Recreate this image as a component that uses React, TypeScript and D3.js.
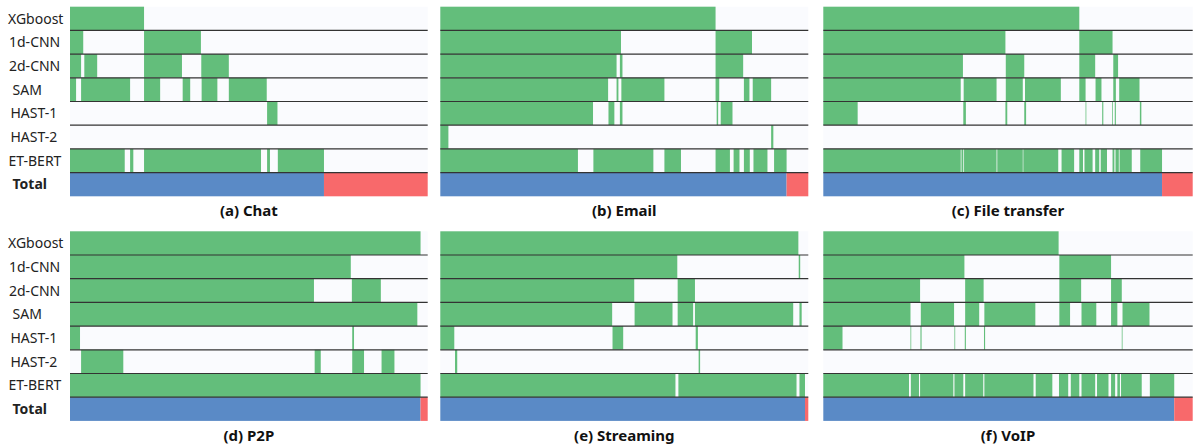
import React from "react";
import * as d3 from "d3";

type Seg = [number, number];

const models = ["XGboost", "1d-CNN", "2d-CNN", "SAM", "HAST-1", "HAST-2", "ET-BERT"];
const panelTitles = ["(a) Chat", "(b) Email", "(c) File transfer", "(d) P2P", "(e) Streaming", "(f) VoIP"];

const chatRows: Seg[][] = [
  [[0, 20.7]],
  [[0, 3.7], [20.7, 36.6]],
  [[0, 3.1], [4.0, 7.6], [20.7, 31.3], [36.7, 44.4]],
  [[0, 1.7], [3.1, 16.8], [20.7, 25.2], [31.5, 33.6], [36.8, 41.2], [44.4, 55.0]],
  [[55.1, 58.0]],
  [],
  [[0, 15.3], [16.8, 17.7], [20.7, 53.4], [55.1, 55.9], [58.1, 71.0]],
];
const emailRows: Seg[][] = [
  [[0, 74.8]],
  [[0, 49.1], [74.8, 84.7]],
  [[0, 47.9], [48.8, 49.5], [74.8, 82.3]],
  [[0, 45.6], [47.9, 48.4], [49.2, 60.9], [74.8, 75.8], [82.5, 84.0], [84.9, 89.9]],
  [[0, 41.5], [45.7, 47.3], [48.8, 49.5], [75.1, 75.5], [76.2, 79.4]],
  [[0, 2.2], [89.9, 90.5]],
  [[0, 37.4], [41.6, 57.9], [60.9, 65.4], [74.8, 78.7], [79.7, 81.3], [82.5, 84.1], [85.1, 88.9], [90.7, 94.1]],
];
const fileRows: Seg[][] = [
  [[0, 69.3]],
  [[0, 49.3], [69.3, 78.3]],
  [[0, 37.8], [49.4, 54.4], [69.3, 73.6], [78.5, 79.8]],
  [[0, 37.2], [38.0, 46.9], [49.4, 54.0], [54.6, 64.3], [69.3, 71.0], [73.7, 75.3], [78.5, 79.2], [80.1, 85.6]],
  [[0, 9.3], [37.9, 38.6], [49.3, 49.8], [54.4, 54.9], [71.0, 71.2], [75.5, 75.8], [78.2, 78.4], [78.9, 79.2], [85.7, 86.1]],
  [],
  [[0, 37.2], [37.4, 37.9], [38.1, 46.9], [47.1, 54.0], [54.15, 63.6], [64.5, 67.9], [69.3, 70.3], [70.7, 72.9], [73.6, 74.7], [75.1, 76.8], [78.3, 78.8], [79.1, 80.0], [80.2, 83.5], [85.8, 91.7]],
];
const p2pRows: Seg[][] = [
  [[0, 98.0]],
  [[0, 78.5]],
  [[0, 68.2], [78.8, 86.9]],
  [[0, 97.1]],
  [[0, 2.8], [78.9, 79.4]],
  [[3.1, 14.9], [68.4, 70.1], [78.9, 82.2], [87.1, 90.7]],
  [[0, 98.0]],
];
const streamingRows: Seg[][] = [
  [[0, 97.3]],
  [[0, 64.4], [97.4, 97.8]],
  [[0, 52.7], [64.5, 69.2]],
  [[0, 46.7], [52.8, 63.1], [64.5, 68.7], [69.2, 95.9], [97.6, 98.2]],
  [[0, 3.8], [46.8, 49.7], [69.4, 70.0]],
  [[4.0, 4.6], [70.2, 70.6]],
  [[0, 63.9], [64.7, 96.8], [97.6, 99.1]],
];
const voipRows: Seg[][] = [
  [[0, 63.7]],
  [[0, 38.2], [63.9, 77.9]],
  [[0, 26.2], [38.4, 43.4], [63.9, 69.8], [77.9, 80.8]],
  [[0, 23.6], [26.4, 35.4], [38.4, 42.2], [43.6, 57.4], [63.9, 66.8], [69.9, 73.9], [77.9, 79.6], [81.0, 88.3]],
  [[0, 5.2], [23.6, 23.8], [26.3, 26.6], [35.5, 35.7], [38.3, 38.6], [43.5, 43.8], [80.8, 81.0]],
  [],
  [[0, 23.2], [23.7, 25.9], [26.2, 35.2], [35.5, 37.9], [38.4, 43.3], [43.6, 56.9], [57.5, 62.0], [63.8, 66.3], [67.0, 69.3], [69.9, 73.6], [74.1, 77.2], [77.9, 79.0], [79.6, 80.3], [80.6, 86.2], [88.4, 95.0]],
];

// share of flows correctly identified by at least one model (blue), rest red
const totalCorrect = [71.0, 94.1, 91.7, 98.0, 99.1, 95.0];

const panelRows = [chatRows, emailRows, fileRows, p2pRows, streamingRows, voipRows];

const GREEN = "#63be7b";
const BLUE = "#5a8ac6";
const RED = "#f8696b";
const BG = "#fafbfe";

const colX: [number, number][] = [
  [70, 427.7],
  [440.3, 808.3],
  [823.3, 1192.7],
];
const rowTop = [6.7, 231.3];
const panelH = 189.6;
const labelX: Record<string, number> = {
  XGboost: 8, "1d-CNN": 9, "2d-CNN": 9, SAM: 12.5, "HAST-1": 10.5, "HAST-2": 10.5, "ET-BERT": 8.5, Total: 12.5,
};

function Panel({ idx }: { idx: number }) {
  const col = idx % 3;
  const r = Math.floor(idx / 3);
  const [x0, x1] = colX[col];
  const top = rowTop[r];
  const x = d3.scaleLinear().domain([0, 100]).range([x0, x1]);
  const y = d3
    .scaleBand<string>()
    .domain([...models, "Total"])
    .range([top, top + panelH])
    .paddingInner(0);
  const bh = y.bandwidth();
  const rows = panelRows[idx];
  const tot = totalCorrect[idx];
  return (
    <g>
      {models.map((m, i) => (
        <g key={m}>
          <rect x={x(0)} y={y(m)} width={x(100) - x(0)} height={bh} fill={BG} />
          {rows[i].map(([s, e], j) => (
            <rect key={j} x={x(s)} y={y(m)} width={x(e) - x(s)} height={bh} fill={GREEN} />
          ))}
        </g>
      ))}
      <rect x={x(0)} y={y("Total")} width={x(tot) - x(0)} height={bh} fill={BLUE} />
      <rect x={x(tot)} y={y("Total")} width={x(100) - x(tot)} height={bh} fill={RED} />
      {models.slice(1).concat(["Total"]).map((m) => (
        <line key={"l" + m} x1={x(0)} x2={x(100)} y1={y(m)!} y2={y(m)!} stroke="#333" strokeWidth={1.2} />
      ))}
      {col === 0 &&
        [...models, "Total"].map((m) => (
          <text
            key={"t" + m}
            x={labelX[m]}
            y={y(m)! + bh / 2 + 5}
            fontFamily="'Noto Sans', sans-serif"
            fontSize={14}
            fontWeight={m === "Total" ? 700 : 400}
            fill="#222"
          >
            {m}
          </text>
        ))}
      <text
        x={(x0 + x1) / 2}
        y={top + panelH + 20}
        textAnchor="middle"
        fontFamily="'Noto Sans', sans-serif"
        fontSize={15}
        fontWeight={700}
        fill="#111"
      >
        {panelTitles[idx]}
      </text>
    </g>
  );
}

export default function App() {
  return (
    <svg
      width={1197}
      height={445}
      style={{ position: "absolute", left: 0, top: 0, background: "#fff" }}
    >
      {panelTitles.map((_, i) => (
        <Panel key={i} idx={i} />
      ))}
    </svg>
  );
}
